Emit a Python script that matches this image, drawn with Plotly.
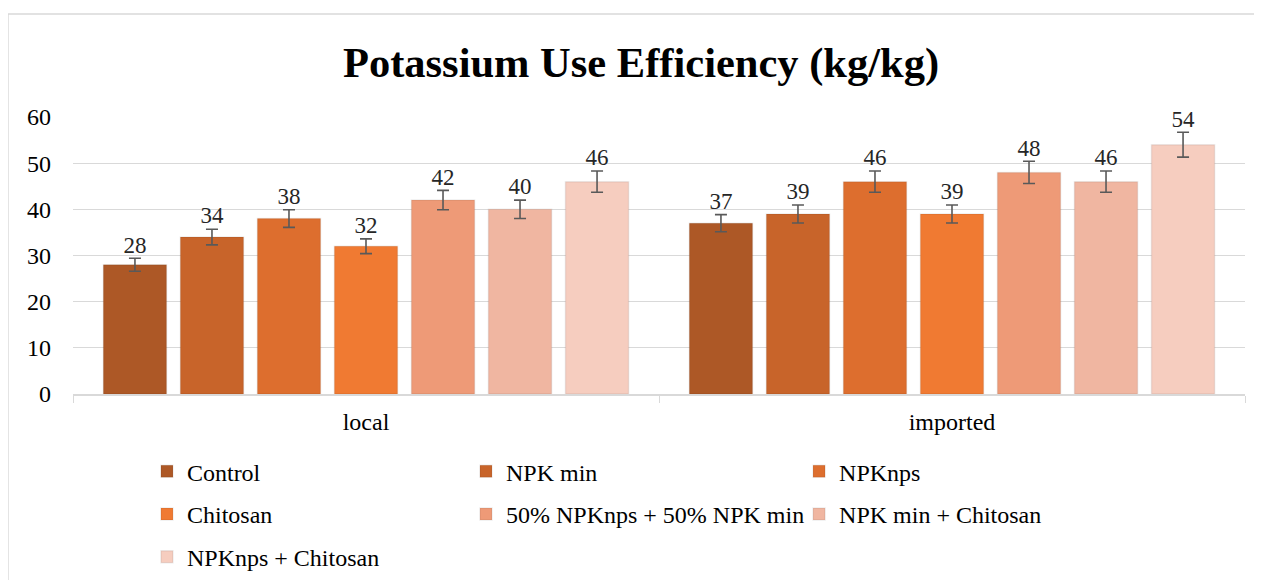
import plotly.graph_objects as go

categories = ["local", "imported"]
series_names = ["Control", "NPK min", "NPKnps", "Chitosan",
                "50% NPKnps + 50% NPK min", "NPK min + Chitosan", "NPKnps + Chitosan"]
values = {
    "Control": [28, 37],
    "NPK min": [34, 39],
    "NPKnps": [38, 46],
    "Chitosan": [32, 39],
    "50% NPKnps + 50% NPK min": [42, 48],
    "NPK min + Chitosan": [40, 46],
    "NPKnps + Chitosan": [46, 54],
}
errors = {
    "Control": [1.4, 1.85],
    "NPK min": [1.7, 1.95],
    "NPKnps": [1.9, 2.3],
    "Chitosan": [1.6, 1.95],
    "50% NPKnps + 50% NPK min": [2.1, 2.4],
    "NPK min + Chitosan": [2.0, 2.3],
    "NPKnps + Chitosan": [2.3, 2.7],
}
colors = ["#AD5826", "#C8642A", "#DD6E2E", "#F07A32", "#EE9A77", "#F0B6A1", "#F6CDBF"]
legend_of = ["legend", "legend2", "legend3", "legend", "legend2", "legend3", "legend"]

FONT = "Liberation Serif, Times New Roman, serif"

fig = go.Figure()
for i, name in enumerate(series_names):
    fig.add_trace(go.Bar(
        name=name, x=categories, y=values[name],
        marker=dict(color=colors[i], line=dict(color="rgba(0,0,0,0.07)", width=1.5)),
        error_y=dict(type="data", array=errors[name], visible=True,
                     color="#595959", thickness=1.6, width=6),
        offsetgroup=str(i), legend=legend_of[i], legendgroup=name,
    ))
for i, name in enumerate(series_names):
    tops = [v + e for v, e in zip(values[name], errors[name])]
    fig.add_trace(go.Scatter(
        x=categories, y=tops, mode="text",
        text=[str(v) for v in values[name]], textposition="top center",
        textfont=dict(family=FONT, size=23, color="#262626"),
        offsetgroup=str(i), showlegend=False, hoverinfo="skip", cliponaxis=False,
    ))

legend_common = dict(orientation="v", font=dict(family=FONT, size=24, color="#000000"),
                     bgcolor="rgba(0,0,0,0)", tracegroupgap=8.5, yanchor="top",
                     yref="container", itemwidth=30, xanchor="left")

fig.update_layout(
    width=1262, height=580,
    barmode="group", bargap=0.08, bargroupgap=0.18,
    scattermode="group", scattergap=0.08,
    plot_bgcolor="white", paper_bgcolor="white",
    margin=dict(l=65, r=25, t=109, b=194, autoexpand=False),
    title=dict(text="<b>Potassium Use Efficiency (kg/kg)</b>",
               font=dict(family=FONT, size=42.5, color="#000000"),
               x=0.5016, xanchor="center", y=0.907, yanchor="middle", yref="container"),
    xaxis=dict(type="category", tickson="boundaries", ticks="outside", ticklen=7,
               tickcolor="#D9D9D9", showline=True, linecolor="#D9D9D9", linewidth=1.5,
               tickfont=dict(family=FONT, size=24, color="#000000"), showgrid=False,
               ticklabelstandoff=5),
    yaxis=dict(range=[0, 60], dtick=10, showgrid=True, gridcolor="#D9D9D9", gridwidth=1.2,
               zeroline=False, showline=False, ticks="",
               tickfont=dict(family=FONT, size=24, color="#000000"), ticklabelstandoff=21),
    legend=dict(x=0.0631, y=0.2393, **legend_common),
    legend2=dict(x=0.3353, y=0.2393, **legend_common),
    legend3=dict(x=0.6195, y=0.2393, **legend_common),
    showlegend=True,
    shapes=[dict(type="rect", xref="paper", yref="paper",
                 x0=-0.0555, x1=1.04, y0=-0.75, y1=1.372,
                 line=dict(color="#D9D9D9", width=1.5), layer="below")],
)

fig.write_html("out.html")
